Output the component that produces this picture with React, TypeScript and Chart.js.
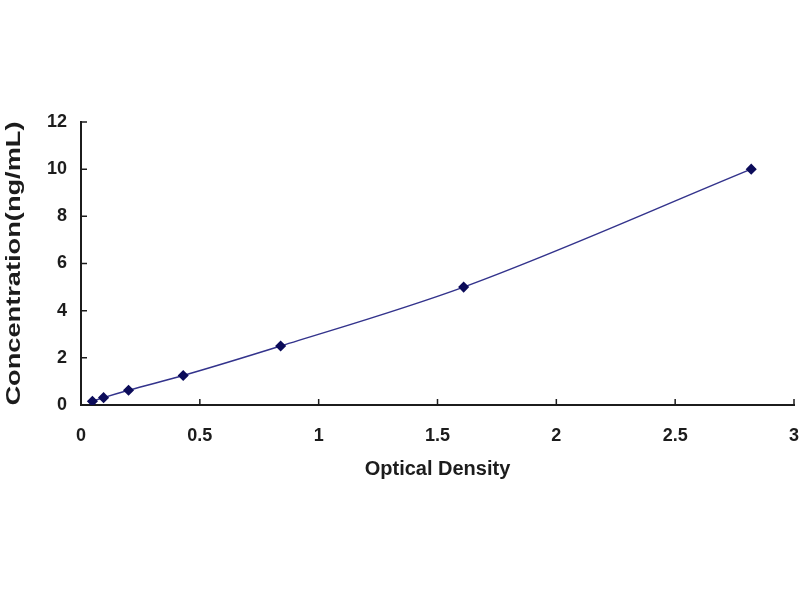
import { useEffect, useRef } from "react";
import { Chart, registerables, Plugin } from "chart.js";

Chart.register(...registerables);

// standard curve
const opticalDensity = [0.048, 0.095, 0.2, 0.43, 0.84, 1.61, 2.82];
const concentration = [0.156, 0.312, 0.625, 1.25, 2.5, 5, 10];
const xTitle = "Optical Density";
const yTitle = "Concentration(ng/mL)";

const FONT = "'Liberation Sans', Arial, sans-serif";
const INK = "#1c1c1c";

// short tick marks pointing into the plot, plus the stretched y title
const axisExtras: Plugin<"line"> = {
  id: "axisExtras",
  afterDraw(chart) {
    const { ctx, chartArea, scales } = chart;
    const xs = scales.x;
    const ys = scales.y;
    ctx.save();
    ctx.strokeStyle = INK;
    ctx.lineWidth = 1.5;
    ctx.beginPath();
    xs.ticks.forEach((t) => {
      const px = xs.getPixelForValue(t.value);
      ctx.moveTo(px, chartArea.bottom);
      ctx.lineTo(px, chartArea.bottom - 6);
    });
    ys.ticks.forEach((t) => {
      const py = ys.getPixelForValue(t.value);
      ctx.moveTo(chartArea.left, py);
      ctx.lineTo(chartArea.left + 6, py);
    });
    ctx.stroke();

    ctx.fillStyle = INK;
    ctx.font = `bold 20px ${FONT}`;
    ctx.textAlign = "center";
    ctx.textBaseline = "middle";
    ctx.translate(14, (chartArea.top + chartArea.bottom) / 2);
    ctx.rotate(-Math.PI / 2);
    ctx.scale(1.36, 1);
    ctx.fillText(yTitle, 0, 0);
    ctx.restore();
  },
};

export default function App() {
  const ref = useRef<HTMLCanvasElement | null>(null);

  useEffect(() => {
    if (!ref.current) return;
    const chart = new Chart(ref.current, {
      type: "line",
      data: {
        datasets: [
          {
            data: opticalDensity.map((x, i) => ({ x, y: concentration[i] })),
            borderColor: "#33338c",
            borderWidth: 1.5,
            backgroundColor: "#0c0c5a",
            pointBackgroundColor: "#0c0c5a",
            pointBorderColor: "#0c0c5a",
            pointStyle: "rectRot",
            pointRadius: 4.5,
            cubicInterpolationMode: "monotone",
          },
        ],
      },
      options: {
        responsive: false,
        animation: false,
        layout: { padding: { top: 122, left: 0, right: 4, bottom: 115 } },
        plugins: { legend: { display: false }, tooltip: { enabled: false } },
        scales: {
          x: {
            type: "linear",
            min: 0,
            max: 3,
            afterFit: (s) => {
              s.paddingRight = 0;
              s.height = 80;
            },
            ticks: {
              stepSize: 0.5,
              padding: 20,
              color: INK,
              font: { family: FONT, size: 18, weight: "bold" },
              callback: (v) => String(v),
            },
            grid: { display: false, drawTicks: false },
            border: { display: true, color: INK, width: 2 },
            title: {
              display: true,
              text: xTitle,
              color: INK,
              font: { family: FONT, size: 20, weight: "bold" },
              padding: { top: 10, bottom: 4 },
            },
          },
          y: {
            min: 0,
            max: 12,
            afterFit: (s) => {
              s.width = 81;
            },
            ticks: {
              stepSize: 2,
              padding: 14,
              color: INK,
              font: { family: FONT, size: 18, weight: "bold" },
            },
            grid: { display: false, drawTicks: false },
            border: { display: true, color: INK, width: 2 },
          },
        },
      },
      plugins: [axisExtras],
    });
    return () => chart.destroy();
  }, []);

  return (
    <div style={{ position: "absolute", left: 0, top: 0, width: 800, height: 600, background: "#fff" }}>
      <canvas ref={ref} width={800} height={600} aria-label="Standard curve" />
    </div>
  );
}
